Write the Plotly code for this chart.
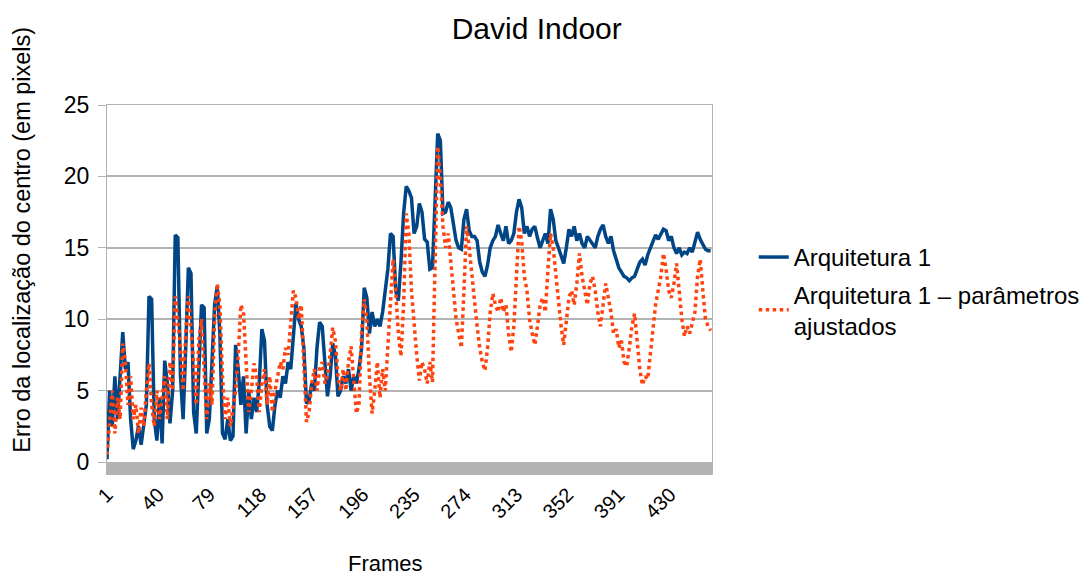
import plotly.graph_objects as go

# Frames sampled every 2 frames (1, 3, ..., 461)
frames = list(range(1, 462, 2))

arquitetura_1 = [
    0.2, 5.0, 2.5, 6.0, 3.0, 6.2, 9.1, 6.5, 7.0, 3.0,
    0.9, 1.5, 2.5, 1.2, 2.8, 4.0, 11.6, 11.4, 3.0, 1.5,
    4.5, 1.3, 7.1, 5.5, 2.7, 5.0, 15.9, 15.7, 6.0, 3.0,
    8.0, 13.6, 13.2, 3.5, 2.0, 7.0, 11.0, 10.8, 2.0, 3.0,
    7.0, 11.0, 12.3, 9.0, 2.0, 1.6, 3.0, 1.5, 1.8, 8.2,
    6.5, 4.0, 6.0, 2.0, 5.0, 3.0, 4.5, 3.5, 5.5, 9.3,
    8.5, 4.0, 2.5, 2.2, 4.0, 5.0, 4.5, 6.0, 5.5, 7.0,
    6.5, 9.0, 11.1, 10.0, 9.5, 8.0, 4.1, 4.3, 5.5, 5.0,
    8.0, 9.8, 9.5, 7.0, 4.6, 6.0, 8.3, 7.5, 4.6, 5.0,
    6.0, 5.5, 6.5, 5.0, 6.0, 5.5, 6.5, 8.0, 12.2, 11.5,
    9.0, 10.5, 9.5, 10.0, 9.5, 10.5, 12.0, 13.5, 16.0, 15.8,
    12.0, 11.3, 14.0, 17.4, 19.3, 19.0, 18.5, 16.0, 16.5, 18.1,
    17.5, 15.6, 15.4, 13.5, 13.6, 18.0, 23.0, 22.5, 17.4, 17.5,
    18.2, 17.8, 16.5, 15.5, 15.0, 14.9, 17.0, 17.7, 16.2, 15.8,
    15.8, 15.5, 14.0, 13.3, 13.0, 13.8, 15.0, 15.5, 15.8, 16.6,
    16.0, 15.5, 16.5, 15.3, 15.5, 16.0, 17.5, 18.4, 17.8, 16.0,
    16.5, 15.8, 16.3, 16.5, 15.7, 15.0, 15.5, 16.0, 15.3, 17.7,
    17.0, 15.5, 15.0, 14.5, 13.9, 15.0, 16.3, 15.8, 16.5, 15.5,
    16.0, 15.3, 15.0, 15.8, 15.5, 15.2, 15.0, 15.8, 16.3, 16.6,
    15.8, 15.3, 15.8, 14.8, 14.2, 13.6, 13.3, 13.0, 12.9, 12.7,
    12.9, 13.0, 13.5, 14.0, 14.2, 13.8, 14.5, 15.0, 15.5, 15.9,
    15.6, 16.0, 16.3, 16.2, 15.5, 15.8, 15.0, 14.6, 15.0, 14.5,
    14.7, 14.6, 15.0, 14.7, 15.5, 16.1, 15.6, 15.2, 14.9, 14.8,
    14.8,
]

arquitetura_1_ajustados = [
    0.5, 3.0, 5.0, 2.0, 4.5, 3.0, 8.3, 7.0, 4.0, 6.0,
    3.0, 4.0, 2.0, 3.8, 2.5, 5.0, 6.9, 4.0, 2.5, 5.0,
    3.0, 4.5, 6.0, 3.0, 7.0, 5.0, 11.6, 10.0, 8.0, 5.0,
    9.0, 11.6, 9.5, 7.0, 4.0, 8.5, 10.0, 6.0, 3.0, 5.5,
    4.0, 10.0, 12.5, 11.0, 6.0, 3.0, 4.5, 2.5, 4.0, 5.0,
    7.5, 11.0, 10.5, 6.5, 3.5, 5.0, 6.9, 6.0, 3.5, 5.5,
    6.5, 4.0, 6.0, 3.5, 5.0, 6.0, 7.0, 6.5, 8.0, 7.5,
    9.5, 12.0, 11.5, 10.0, 11.0, 7.0, 2.8, 3.5, 5.5, 6.5,
    5.0, 6.5, 7.0, 5.5, 6.0, 7.5, 9.4, 8.5, 6.0, 5.0,
    6.5, 5.0, 7.0, 8.1, 6.0, 3.4, 4.0, 9.0, 11.4, 10.0,
    6.0, 3.4, 5.0, 7.0, 4.5, 6.5, 5.0, 8.0, 10.5, 14.2,
    12.0, 9.0, 7.4, 11.0, 17.4, 16.0, 12.0, 9.5, 7.5, 5.7,
    7.0, 6.5, 5.5, 7.0, 5.6, 14.0, 22.1, 20.0, 16.5, 15.0,
    16.0, 14.0, 12.0, 10.0, 9.0, 8.0, 12.0, 16.5, 15.0, 13.0,
    11.0, 9.5, 8.0, 7.0, 6.4, 8.0, 10.5, 11.8, 11.0, 10.5,
    11.5, 10.5, 11.0, 9.0, 7.7, 9.5, 13.0, 16.5, 15.5, 13.0,
    12.0, 10.0, 9.0, 8.2, 9.5, 11.0, 11.5, 10.5, 13.5, 16.0,
    15.0, 13.0, 11.0, 9.5, 8.2, 10.0, 11.5, 12.0, 11.0, 12.5,
    14.6, 13.0, 12.0, 11.0, 12.5, 13.0, 12.0, 10.5, 9.5, 11.0,
    12.5, 11.5, 10.5, 9.0, 9.3, 8.0, 8.5, 7.0, 6.7, 8.0,
    9.5, 10.4, 8.5, 6.5, 5.4, 6.0, 5.8, 7.5, 9.5, 11.0,
    12.0, 13.0, 14.6, 13.5, 12.0, 11.5, 12.5, 13.9, 12.0, 10.0,
    8.8, 9.5, 9.0, 9.9, 10.5, 13.0, 14.2, 12.0, 10.0, 9.5,
    9.2,
]

tick_vals = [1, 40, 79, 118, 157, 196, 235, 274, 313, 352, 391, 430]
tick_text = [str(v) for v in tick_vals]
y_ticks = [0, 5, 10, 15, 20, 25]

FONT = "Liberation Sans, Arial, sans-serif"
GRID = "#b3b3b3"

fig = go.Figure()
fig.add_trace(go.Scatter(
    x=frames, y=arquitetura_1, mode="lines", name="Arquitetura 1",
    legendgroup="a",
    line=dict(color="#004586", width=3.5),
))
fig.add_trace(go.Scatter(
    x=frames, y=arquitetura_1_ajustados, mode="lines",
    name="Arquitetura 1 – parâmetros<br>ajustados", legendgroup="b",
    line=dict(color="#ff420e", width=3.5, dash="dot"),
))

# The page body adds an 8px offset, so the figure is sized to the remaining window.
fig.update_layout(
    width=1079, height=572,
    margin=dict(l=99, r=375, t=97, b=118, autoexpand=False),
    paper_bgcolor="white", plot_bgcolor="white",
    font=dict(family=FONT, color="#000000"),
    title=dict(text="David Indoor", x=0.49, xanchor="center", y=0.983, yanchor="top",
               font=dict(size=30, family=FONT, color="#000000")),
    showlegend=True,
    legend=dict(x=1.069, xanchor="left", y=0.636, yanchor="top",
                font=dict(size=24, family=FONT, color="#000000"),
                bgcolor="rgba(0,0,0,0)", itemwidth=30, tracegroupgap=3),
    xaxis=dict(
        range=[1, 462], tickmode="array", tickvals=tick_vals, ticktext=tick_text,
        tickangle=-45, tickfont=dict(size=20, family=FONT, color="#000000"),
        ticks="outside", ticklen=12, tickwidth=2, tickcolor=GRID,
        minor=dict(tickmode="linear", tick0=1, dtick=1, ticks="outside",
                   ticklen=12, tickwidth=2, tickcolor=GRID, showgrid=False),
        showgrid=False, zeroline=False, automargin=False,
        showline=True, linecolor=GRID, linewidth=1, mirror=True,
    ),
    yaxis=dict(
        range=[0, 25], tickmode="array", tickvals=y_ticks,
        tickfont=dict(size=23, family=FONT, color="#000000"),
        ticks="outside", ticklen=8, tickcolor=GRID, ticklabelstandoff=4,
        showgrid=True, gridcolor=GRID, gridwidth=1.5, zeroline=False, automargin=False,
        showline=True, linecolor=GRID, linewidth=1, mirror=True,
    ),
    annotations=[
        dict(text="Erro da localização do centro (em pixels)", textangle=-90,
             xref="paper", yref="paper", x=-0.141, y=0.622,
             xanchor="center", yanchor="middle", showarrow=False,
             font=dict(size=23.5, family=FONT, color="#000000")),
        dict(text="Frames", xref="paper", yref="paper", x=0.46, y=-0.283,
             xanchor="center", yanchor="middle", showarrow=False,
             font=dict(size=22, family=FONT, color="#000000")),
    ],
)

fig.write_html("out.html")
